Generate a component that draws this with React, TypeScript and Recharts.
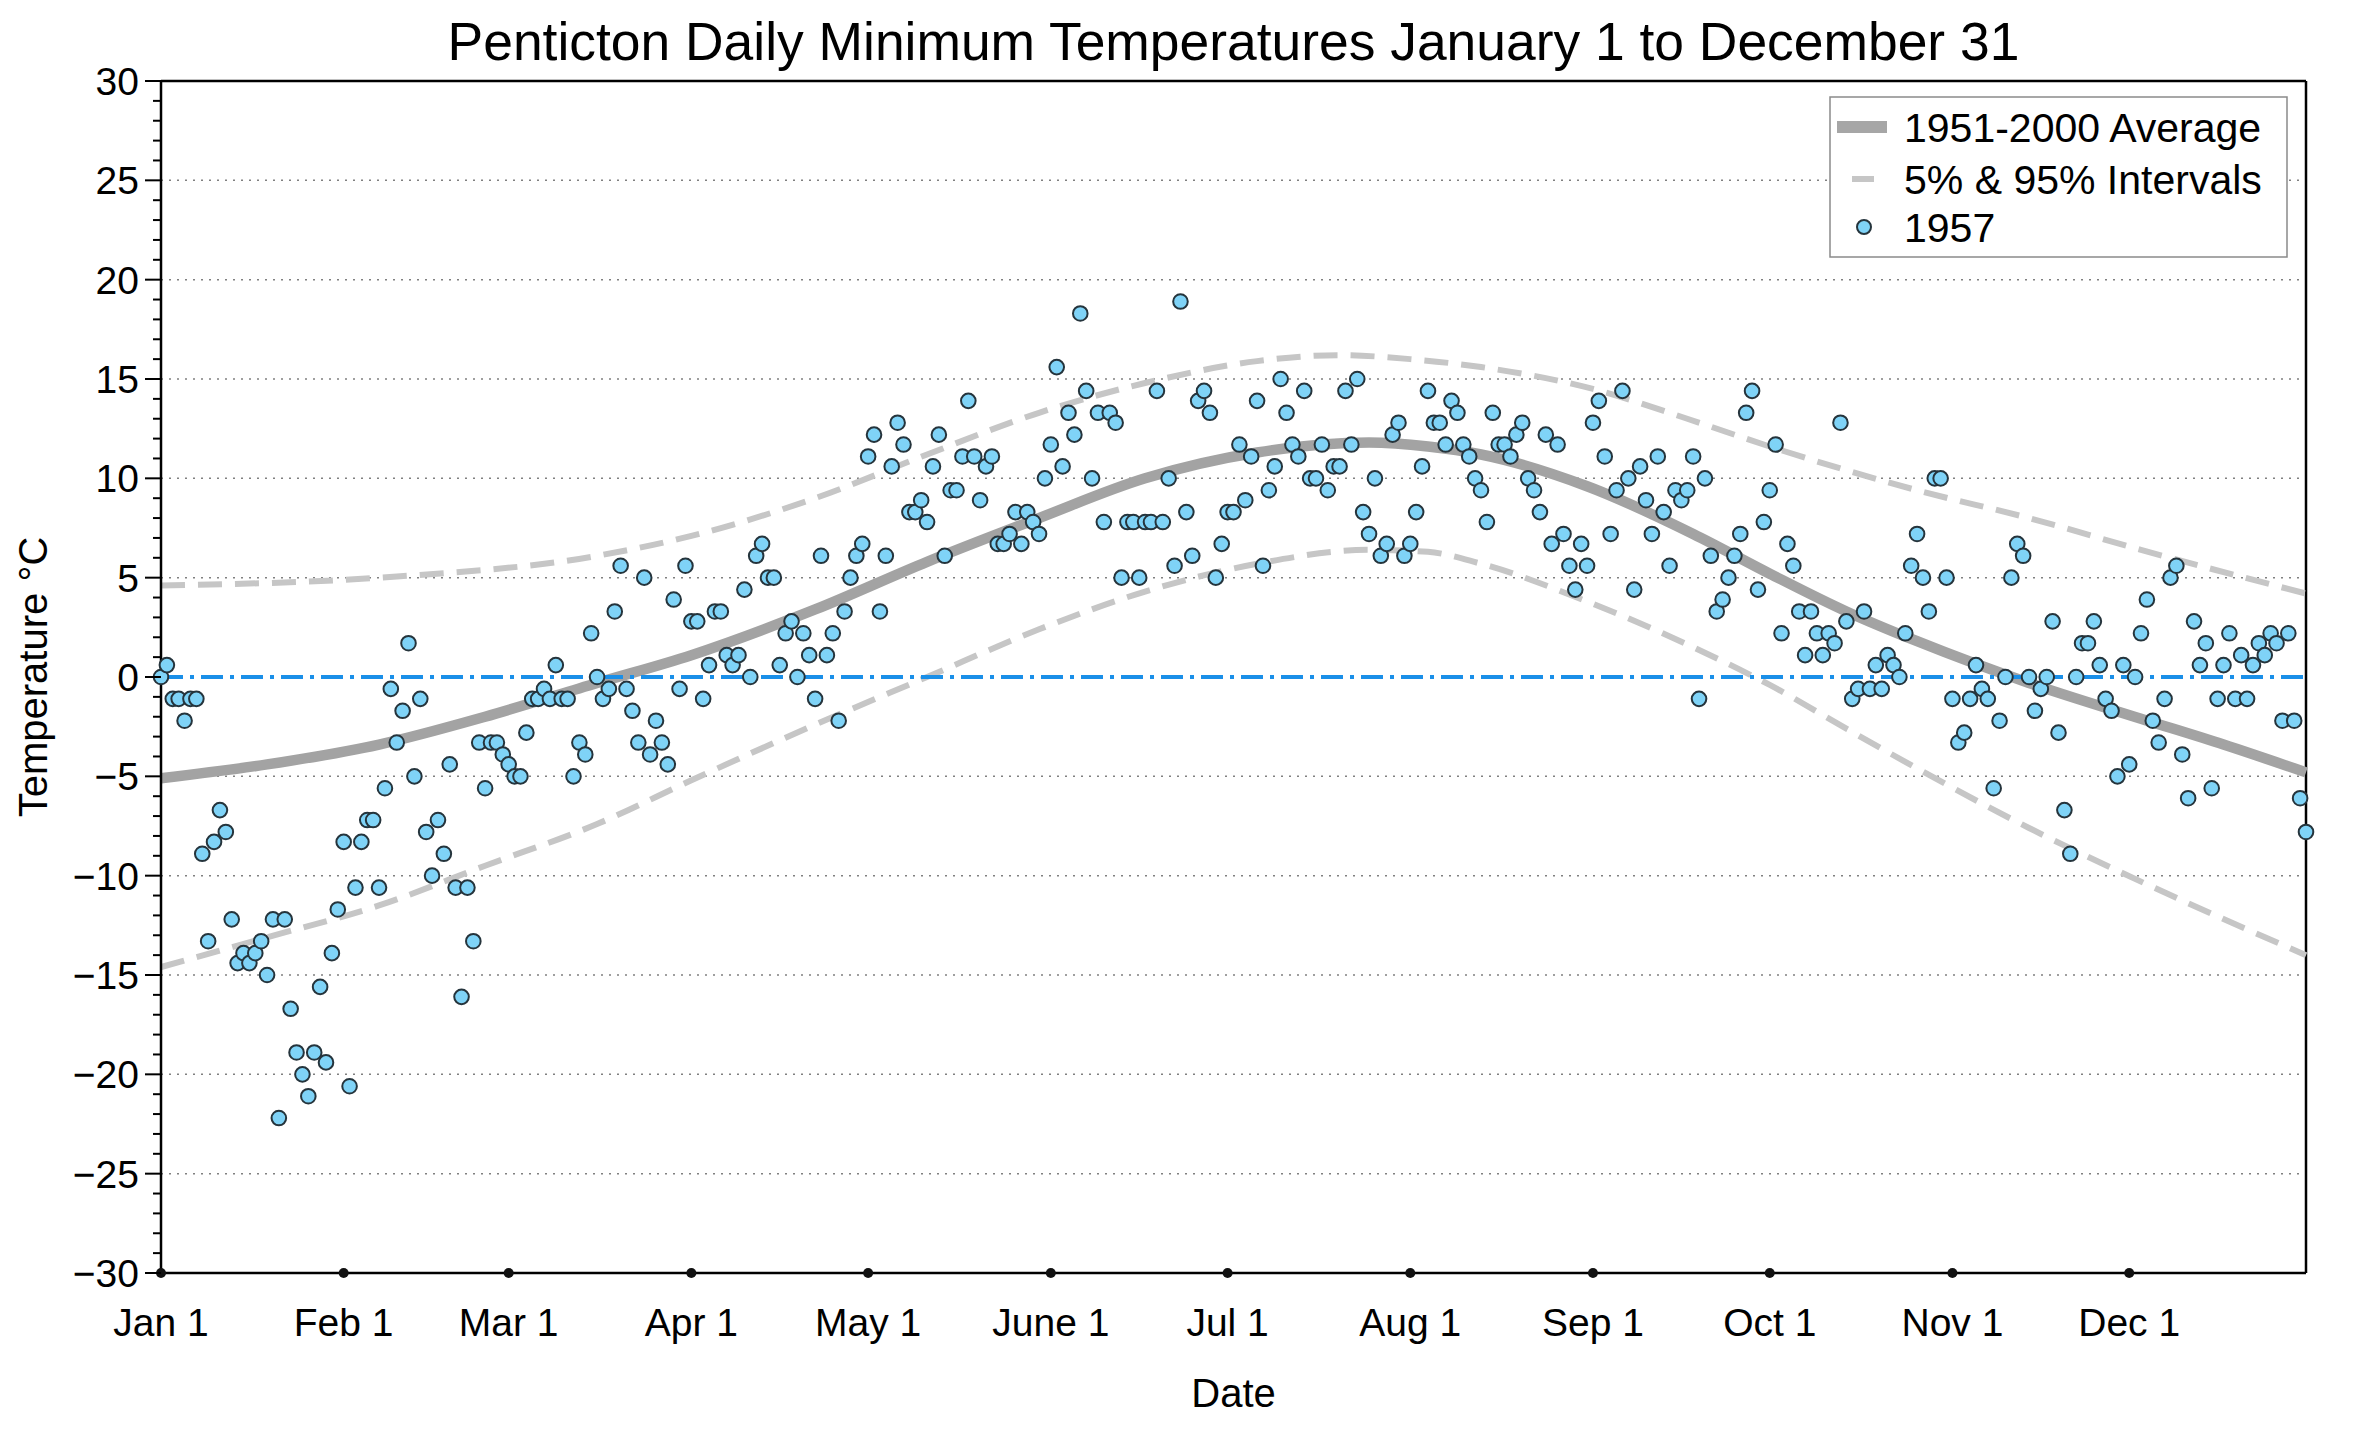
import React from "react";
import { ComposedChart, Line, Scatter, XAxis, YAxis, ReferenceLine, Legend } from "recharts";

const W = 2360;
const H = 1432;
const FONT = '"Liberation Sans", Arial, Helvetica, sans-serif';

// 1957 daily minimum temperatures (°C), one array per month
const jan = [0, 0.6, -1.1, -1.1, -2.2, -1.1, -1.1, -8.9, -13.3, -8.3, -6.7, -7.8, -12.2, -14.4, -13.9, -14.4, -13.9, -13.3, -15.0, -12.2, -22.2, -12.2, -16.7, -18.9, -20.0, -21.1, -18.9, -15.6, -19.4, -13.9, -11.7];
const feb = [-8.3, -20.6, -10.6, -8.3, -7.2, -7.2, -10.6, -5.6, -0.6, -3.3, -1.7, 1.7, -5.0, -1.1, -7.8, -10.0, -7.2, -8.9, -4.4, -10.6, -16.1, -10.6, -13.3, -3.3, -5.6, -3.3, -3.3, -3.9];
const mar = [-4.4, -5.0, -5.0, -2.8, -1.1, -1.1, -0.6, -1.1, 0.6, -1.1, -1.1, -5.0, -3.3, -3.9, 2.2, 0, -1.1, -0.6, 3.3, 5.6, -0.6, -1.7, -3.3, 5.0, -3.9, -2.2, -3.3, -4.4, 3.9, -0.6, 5.6];
const apr = [2.8, 2.8, -1.1, 0.6, 3.3, 3.3, 1.1, 0.6, 1.1, 4.4, 0, 6.1, 6.7, 5.0, 5.0, 0.6, 2.2, 2.8, 0, 2.2, 1.1, -1.1, 6.1, 1.1, 2.2, -2.2, 3.3, 5.0, 6.1, 6.7];
const may = [11.1, 12.2, 3.3, 6.1, 10.6, 12.8, 11.7, 8.3, 8.3, 8.9, 7.8, 10.6, 12.2, 6.1, 9.4, 9.4, 11.1, 13.9, 11.1, 8.9, 10.6, 11.1, 6.7, 6.7, 7.2, 8.3, 6.7, 8.3, 7.8, 7.2, 10.0];
const jun = [11.7, 15.6, 10.6, 13.3, 12.2, 18.3, 14.4, 10.0, 13.3, 7.8, 13.3, 12.8, 5.0, 7.8, 7.8, 5.0, 7.8, 7.8, 14.4, 7.8, 10.0, 5.6, 18.9, 8.3, 6.1, 13.9, 14.4, 13.3, 5.0, 6.7];
const jul = [8.3, 8.3, 11.7, 8.9, 11.1, 13.9, 5.6, 9.4, 10.6, 15.0, 13.3, 11.7, 11.1, 14.4, 10.0, 10.0, 11.7, 9.4, 10.6, 10.6, 14.4, 11.7, 15.0, 8.3, 7.2, 10.0, 6.1, 6.7, 12.2, 12.8, 6.1];
const aug = [6.7, 8.3, 10.6, 14.4, 12.8, 12.8, 11.7, 13.9, 13.3, 11.7, 11.1, 10.0, 9.4, 7.8, 13.3, 11.7, 11.7, 11.1, 12.2, 12.8, 10.0, 9.4, 8.3, 12.2, 6.7, 11.7, 7.2, 5.6, 4.4, 6.7, 5.6];
const sep = [12.8, 13.9, 11.1, 7.2, 9.4, 14.4, 10.0, 4.4, 10.6, 8.9, 7.2, 11.1, 8.3, 5.6, 9.4, 8.9, 9.4, 11.1, -1.1, 10.0, 6.1, 3.3, 3.9, 5.0, 6.1, 7.2, 13.3, 14.4, 4.4, 7.8];
const oct = [9.4, 11.7, 2.2, 6.7, 5.6, 3.3, 1.1, 3.3, 2.2, 1.1, 2.2, 1.7, 12.8, 2.8, -1.1, -0.6, 3.3, -0.6, 0.6, -0.6, 1.1, 0.6, 0, 2.2, 5.6, 7.2, 5.0, 3.3, 10.0, 10.0, 5.0];
const nov = [-1.1, -3.3, -2.8, -1.1, 0.6, -0.6, -1.1, -5.6, -2.2, 0, 5.0, 6.7, 6.1, 0, -1.7, -0.6, 0, 2.8, -2.8, -6.7, -8.9, 0, 1.7, 1.7, 2.8, 0.6, -1.1, -1.7, -5.0, 0.6];
const dec = [-4.4, 0, 2.2, 3.9, -2.2, -3.3, -1.1, 5.0, 5.6, -3.9, -6.1, 2.8, 0.6, 1.7, -5.6, -1.1, 0.6, 2.2, -1.1, 1.1, -1.1, 0.6, 1.7, 1.1, 2.2, 1.7, -2.2, 2.2, -2.2, -6.1, -7.8];

// 1951-2000 climatology, read at day-of-year nodes
const avgDays = [0, 18, 37, 55, 74, 90, 111, 130, 149, 167, 186, 205, 215, 224, 242, 260, 273, 286, 298, 317, 336, 350, 364];
const avgVals = [-5.1, -4.4, -3.4, -2.0, -0.3, 1.1, 3.4, 5.8, 8.0, 10.0, 11.3, 11.8, 11.6, 11.2, 9.6, 7.2, 5.2, 3.3, 1.8, -0.3, -2.1, -3.4, -4.8];
const upperDays = [0, 37, 74, 90, 111, 130, 149, 167, 186, 200, 212, 224, 243, 259, 273, 298, 317, 336, 364];
const upperVals = [4.6, 5.0, 6.1, 7.1, 9.0, 11.2, 13.3, 14.8, 15.9, 16.2, 16.0, 15.6, 14.5, 13.0, 11.6, 9.4, 8.0, 6.4, 4.2];
const lowerDays = [0, 18, 37, 55, 74, 90, 111, 130, 149, 167, 186, 205, 215, 224, 242, 260, 273, 286, 298, 317, 336, 364];
const lowerVals = [-14.6, -13.1, -11.5, -9.5, -7.4, -5.2, -2.4, 0.0, 2.4, 4.3, 5.7, 6.4, 6.3, 5.7, 3.8, 1.5, -0.4, -2.6, -4.6, -7.6, -10.3, -14.0];

const monthDays = [0, 31, 59, 90, 120, 151, 181, 212, 243, 273, 304, 334];
const monthLabels = ["Jan 1", "Feb 1", "Mar 1", "Apr 1", "May 1", "June 1", "Jul 1", "Aug 1", "Sep 1", "Oct 1", "Nov 1", "Dec 1"];
const yMajor = [-30, -25, -20, -15, -10, -5, 0, 5, 10, 15, 20, 25, 30];
const yTicks = Array.from({ length: 61 }, (_, i) => i - 30);
const gridValues = [-25, -20, -15, -10, -5, 5, 10, 15, 20, 25];

const temps = [...jan, ...feb, ...mar, ...apr, ...may, ...jun, ...jul, ...aug, ...sep, ...oct, ...nov, ...dec];
const points = temps.map((t, day) => ({ day, t }));
const avgData = avgDays.map((day, i) => ({ day, t: avgVals[i] }));
const upperData = upperDays.map((day, i) => ({ day, t: upperVals[i] }));
const lowerData = lowerDays.map((day, i) => ({ day, t: lowerVals[i] }));

const fmtNum = (v: number) => (v < 0 ? `\u2212${-v}` : `${v}`);

function YTick(props: any) {
  const { x, y, payload } = props;
  const v = payload.value;
  const major = yMajor.includes(v);
  return (
    <g>
      <line x1={x} x2={x - (major ? 16 : 8)} y1={y} y2={y} stroke="#000" strokeWidth={2} />
      {major && (
        <text x={x - 22} y={y + 14} textAnchor="end" fontSize={39} fontFamily={FONT} fill="#000">
          {fmtNum(v)}
        </text>
      )}
    </g>
  );
}

function XTick(props: any) {
  const { x, y, payload } = props;
  const i = monthDays.indexOf(payload.value);
  return (
    <g>
      <circle cx={x} cy={y} r={5} fill="#111" />
      <text x={x} y={y + 63} textAnchor="middle" fontSize={39} fontFamily={FONT} fill="#000">
        {monthLabels[i]}
      </text>
    </g>
  );
}

function Dot(props: any) {
  const { cx, cy } = props;
  return <circle cx={cx} cy={cy} r={7.3} fill="#7fd3f7" stroke="#25343c" strokeWidth={2} />;
}

function LegendBox() {
  const rowY = [31, 83, 131];
  return (
    <svg width={460} height={163} style={{ display: "block" }}>
      <rect x={1} y={1} width={457} height={160} fill="#fff" stroke="#8a8a8a" strokeWidth={1.5} />
      <line x1={8} x2={58} y1={rowY[0]} y2={rowY[0]} stroke="#a6a6a6" strokeWidth={12} />
      <line x1={23} x2={45} y1={rowY[1]} y2={rowY[1]} stroke="#c6c6c6" strokeWidth={6} />
      <circle cx={35} cy={rowY[2]} r={7} fill="#7fd3f7" stroke="#25343c" strokeWidth={2} />
      {["1951-2000 Average", "5% & 95% Intervals", "1957"].map((s, i) => (
        <text key={s} x={75} y={rowY[i] + 15} fontSize={41} fontFamily={FONT} fill="#000">
          {s}
        </text>
      ))}
    </svg>
  );
}

export default function App() {
  return (
    <div style={{ position: "absolute", left: 0, top: 0, width: W, height: H, background: "#fff" }}>
      <ComposedChart width={W} height={H} margin={{ top: 81, right: 54, bottom: 19, left: 0 }}>
        <XAxis
          type="number"
          dataKey="day"
          domain={[0, 364]}
          ticks={monthDays}
          interval={0}
          tick={<XTick />}
          tickLine={false}
          tickSize={0}
          tickMargin={0}
          height={140}
          axisLine={{ stroke: "#000", strokeWidth: 2.5 }}
          label={{
            content: (p: any) => {
              const vb = p.viewBox;
              return (
                <text x={vb.x + vb.width / 2} y={1407} textAnchor="middle" fontSize={40} fontFamily={FONT} fill="#000">
                  Date
                </text>
              );
            },
          }}
        />
        <YAxis
          type="number"
          dataKey="t"
          domain={[-30, 30]}
          ticks={yTicks}
          interval={0}
          allowDataOverflow
          tick={<YTick />}
          tickLine={false}
          tickSize={0}
          tickMargin={0}
          width={161}
          axisLine={{ stroke: "#000", strokeWidth: 2.5 }}
          label={{
            content: (p: any) => {
              const vb = p.viewBox;
              const cy = vb.y + vb.height / 2;
              return (
                <text x={47} y={cy} transform={`rotate(-90 47 ${cy})`} textAnchor="middle" fontSize={40} fontFamily={FONT} fill="#000">
                  Temperature °C
                </text>
              );
            },
          }}
        />
        {gridValues.map((v) => (
          <ReferenceLine key={v} y={v} stroke="#808080" strokeWidth={1.5} strokeDasharray="2 6" />
        ))}
        <ReferenceLine y={30} stroke="#000" strokeWidth={2.5} />
        <ReferenceLine x={364} stroke="#000" strokeWidth={2.5} />
        <Line data={upperData} dataKey="t" type="monotone" stroke="#c6c6c6" strokeWidth={6} strokeDasharray="24 13" dot={false} isAnimationActive={false} />
        <Line data={lowerData} dataKey="t" type="monotone" stroke="#c6c6c6" strokeWidth={6} strokeDasharray="24 13" dot={false} isAnimationActive={false} />
        <Line data={avgData} dataKey="t" type="monotone" stroke="#a3a3a3" strokeWidth={10.5} dot={false} isAnimationActive={false} />
        <ReferenceLine y={0} stroke="#1a8fe8" strokeWidth={3.8} strokeDasharray="22 7 4 7" />
        <Scatter data={points} dataKey="t" shape={<Dot />} isAnimationActive={false} />
        <Legend
          layout="vertical"
          align="center"
          verticalAlign="middle"
          wrapperStyle={{ left: 1829, top: 96, width: 460, height: 163 }}
          content={() => <LegendBox />}
        />
      </ComposedChart>
      <div
        style={{
          position: "absolute",
          left: 161,
          width: 2145,
          top: 15,
          textAlign: "center",
          fontSize: 53.4,
          lineHeight: 1,
          fontFamily: FONT,
          color: "#000",
        }}
      >
        Penticton Daily Minimum Temperatures January 1 to December 31
      </div>
    </div>
  );
}
